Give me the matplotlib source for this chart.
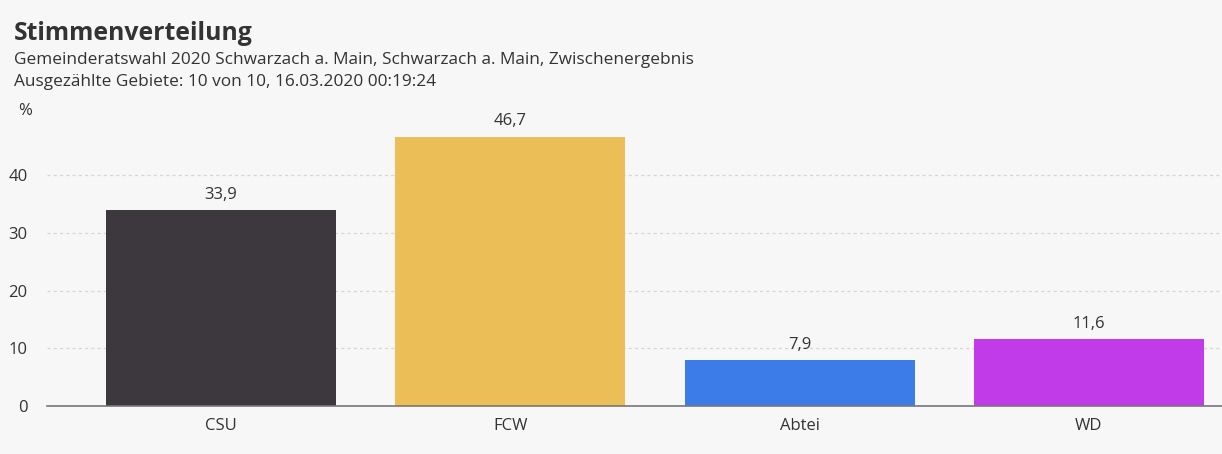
import matplotlib.pyplot as plt

parties = ["CSU", "FCW", "Abtei", "WD"]
shares = [33.9, 46.7, 7.9, 11.6]
bar_colors = ["#3d383e", "#ebbe57", "#3c7ce8", "#c13ce8"]
y_ticks = [0, 10, 20, 30, 40]

plt.rcParams["font.family"] = ["Open Sans", "DejaVu Sans"]
text_color = "#333333"
bg = "#f7f7f7"

fig = plt.figure(figsize=(12.22, 4.54), dpi=100, facecolor=bg)
# axes placed in pixel terms: left 47, right 1222, bottom y=406, top y=117.5
W, H = 1222, 454
ax = fig.add_axes([47 / W, (H - 406) / H, (1222 - 47) / W, (406 - 117.5) / H], facecolor=bg)

x = list(range(len(parties)))
ax.bar(x, shares, width=0.795, color=bar_colors, zorder=3)
for xi, v in zip(x, shares):
    ax.text(xi, v + 1.3, f"{v:.1f}".replace(".", ","), ha="center", va="bottom",
            fontsize=12, color=text_color)

ax.set_xlim(-0.601, 3.46)
ax.set_ylim(0, 50)
ax.set_yticks(y_ticks)
ax.set_xticks(x)
ax.set_xticklabels(parties)
ax.tick_params(axis="both", length=0, labelsize=12, colors=text_color)
ax.tick_params(axis="y", pad=14)
ax.tick_params(axis="x", pad=9)
for label in ax.get_yticklabels():
    label.set_horizontalalignment("right")

for t in y_ticks[1:]:
    ax.axhline(t, color="#d6d6d6", linestyle=(0, (2.5, 2.5)), linewidth=0.9, zorder=1)

for s in ["top", "right", "left"]:
    ax.spines[s].set_visible(False)
ax.spines["bottom"].set_color("#777777")
ax.spines["bottom"].set_linewidth(1.2)
ax.spines["bottom"].set_zorder(4)

fig.text(14 / W, 1 - 34 / H, "Stimmenverteilung", fontsize=17.8, fontweight="bold",
         color=text_color, va="center", ha="left")
fig.text(14 / W, 1 - 60 / H, "Gemeinderatswahl 2020 Schwarzach a. Main, Schwarzach a. Main, Zwischenergebnis",
         fontsize=12.45, color=text_color, va="center", ha="left")
fig.text(14 / W, 1 - 82 / H, "Ausgezählte Gebiete: 10 von 10, 16.03.2020 00:19:24",
         fontsize=12.45, color=text_color, va="center", ha="left")
fig.text(18 / W, 1 - 111 / H, "%", fontsize=12, color=text_color, va="center", ha="left")

fig.savefig("out.png", dpi=100, facecolor=bg)
